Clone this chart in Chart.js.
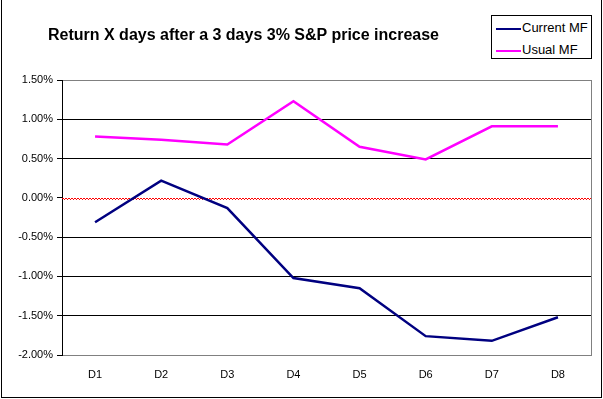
<!DOCTYPE html>
<html>
<head>
<meta charset="utf-8">
<script src="https://cdn.jsdelivr.net/npm/chart.js@4"></script>
<style>
  body { margin: 0; background: #fff; }
  #wrap { position: relative; width: 603px; height: 399px; overflow: hidden; font-family: "Liberation Sans", Arial, sans-serif; }
  #frame { position: absolute; left: 1px; top: -2px; width: 599px; height: 398px; border: 1px solid #000; box-sizing: content-box; pointer-events: none; }
  #title { position: absolute; left: 48px; top: 26px; font-size: 16px; font-weight: bold; white-space: nowrap; }
  #legend { position: absolute; left: 491px; top: 15px; width: 99px; height: 42px; border: 1px solid #000; background: #fff; font-size: 13px; }
  .row { position: absolute; left: 4px; height: 15px; line-height: 15px; white-space: nowrap; }
  .row span.sw { display: inline-block; width: 25px; height: 2px; vertical-align: middle; margin-right: 1px; }
</style>
</head>
<body>
<div id="wrap">
  <canvas id="chart" width="603" height="399"></canvas>
  <div id="title">Return X days after a 3 days 3% S&amp;P price increase</div>
  <div id="legend"></div>
  <div id="frame"></div>
</div>
<script>
// data (percent)
const days = ['D1', 'D2', 'D3', 'D4', 'D5', 'D6', 'D7', 'D8'];
const currentMF = [-0.31, 0.22, -0.13, -1.02, -1.15, -1.76, -1.82, -1.52];
const usualMF = [0.78, 0.74, 0.68, 1.23, 0.65, 0.49, 0.91, 0.91];
const seriesNames = ['Current MF', 'Usual MF'];
const seriesColors = ['#000080', '#ff00ff'];

// legend box (html so the text stays text)
const legendEl = document.getElementById('legend');
seriesNames.forEach((name, i) => {
  const row = document.createElement('div');
  row.className = 'row';
  row.style.top = (i === 0 ? 4 : 26) + 'px';
  row.innerHTML = `<span class="sw" style="background:${seriesColors[i]}"></span>${name}`;
  legendEl.appendChild(row);
});

// gray right edge of plot + red dotted zero line
const plotExtras = {
  id: 'plotExtras',
  beforeDatasetsDraw(chart) {
    const { ctx, chartArea, scales } = chart;
    ctx.save();
    ctx.strokeStyle = '#808080';
    ctx.lineWidth = 1;
    ctx.beginPath();
    ctx.moveTo(Math.round(chartArea.right) + 0.5, chartArea.top);
    ctx.lineTo(Math.round(chartArea.right) + 0.5, chartArea.bottom);
    ctx.stroke();
    const y0 = Math.round(scales.y.getPixelForValue(0));
    ctx.strokeStyle = '#ff0000';
    ctx.setLineDash([2, 1]);
    ctx.beginPath();
    ctx.moveTo(chartArea.left, y0 + 0.5);
    ctx.lineTo(chartArea.right, y0 + 0.5);
    ctx.stroke();
    ctx.setLineDash([1, 2]);
    ctx.lineDashOffset = 1;
    ctx.beginPath();
    ctx.moveTo(chartArea.left, y0 + 1.5);
    ctx.lineTo(chartArea.right, y0 + 1.5);
    ctx.stroke();
    ctx.restore();
  }
};

const font = { family: '"Liberation Sans", Arial, sans-serif', size: 11 };

new Chart(document.getElementById('chart'), {
  type: 'line',
  data: {
    labels: days,
    datasets: [
      { label: seriesNames[0], data: currentMF, borderColor: seriesColors[0], borderWidth: 2.5, pointRadius: 0, tension: 0 },
      { label: seriesNames[1], data: usualMF, borderColor: seriesColors[1], borderWidth: 2.5, pointRadius: 0, tension: 0 }
    ]
  },
  options: {
    responsive: false,
    animation: false,
    layout: { padding: { top: 80, right: 12, left: 0, bottom: 0 } },
    plugins: { legend: { display: false }, title: { display: false }, tooltip: { enabled: false } },
    scales: {
      x: {
        offset: true,
        grid: { display: false, drawTicks: false },
        border: { color: '#808080' },
        ticks: { color: '#000', font: font, padding: 13, maxRotation: 0 },
        afterFit: s => { s.height = 44; }
      },
      y: {
        min: -2,
        max: 1.5,
        grid: {
          color: c => c.tick.value === 0 ? 'rgba(0,0,0,0)' : (c.tick.value === 1.5 || c.tick.value === -2 ? '#808080' : '#000'),
          tickColor: '#000',
          tickLength: 5
        },
        border: { color: '#000' },
        ticks: { stepSize: 0.5, color: '#000', font: font, padding: 4, callback: v => v.toFixed(2) + '%' },
        afterFit: s => { s.width = 62; }
      }
    }
  },
  plugins: [plotExtras]
});
</script>
</body>
</html>
